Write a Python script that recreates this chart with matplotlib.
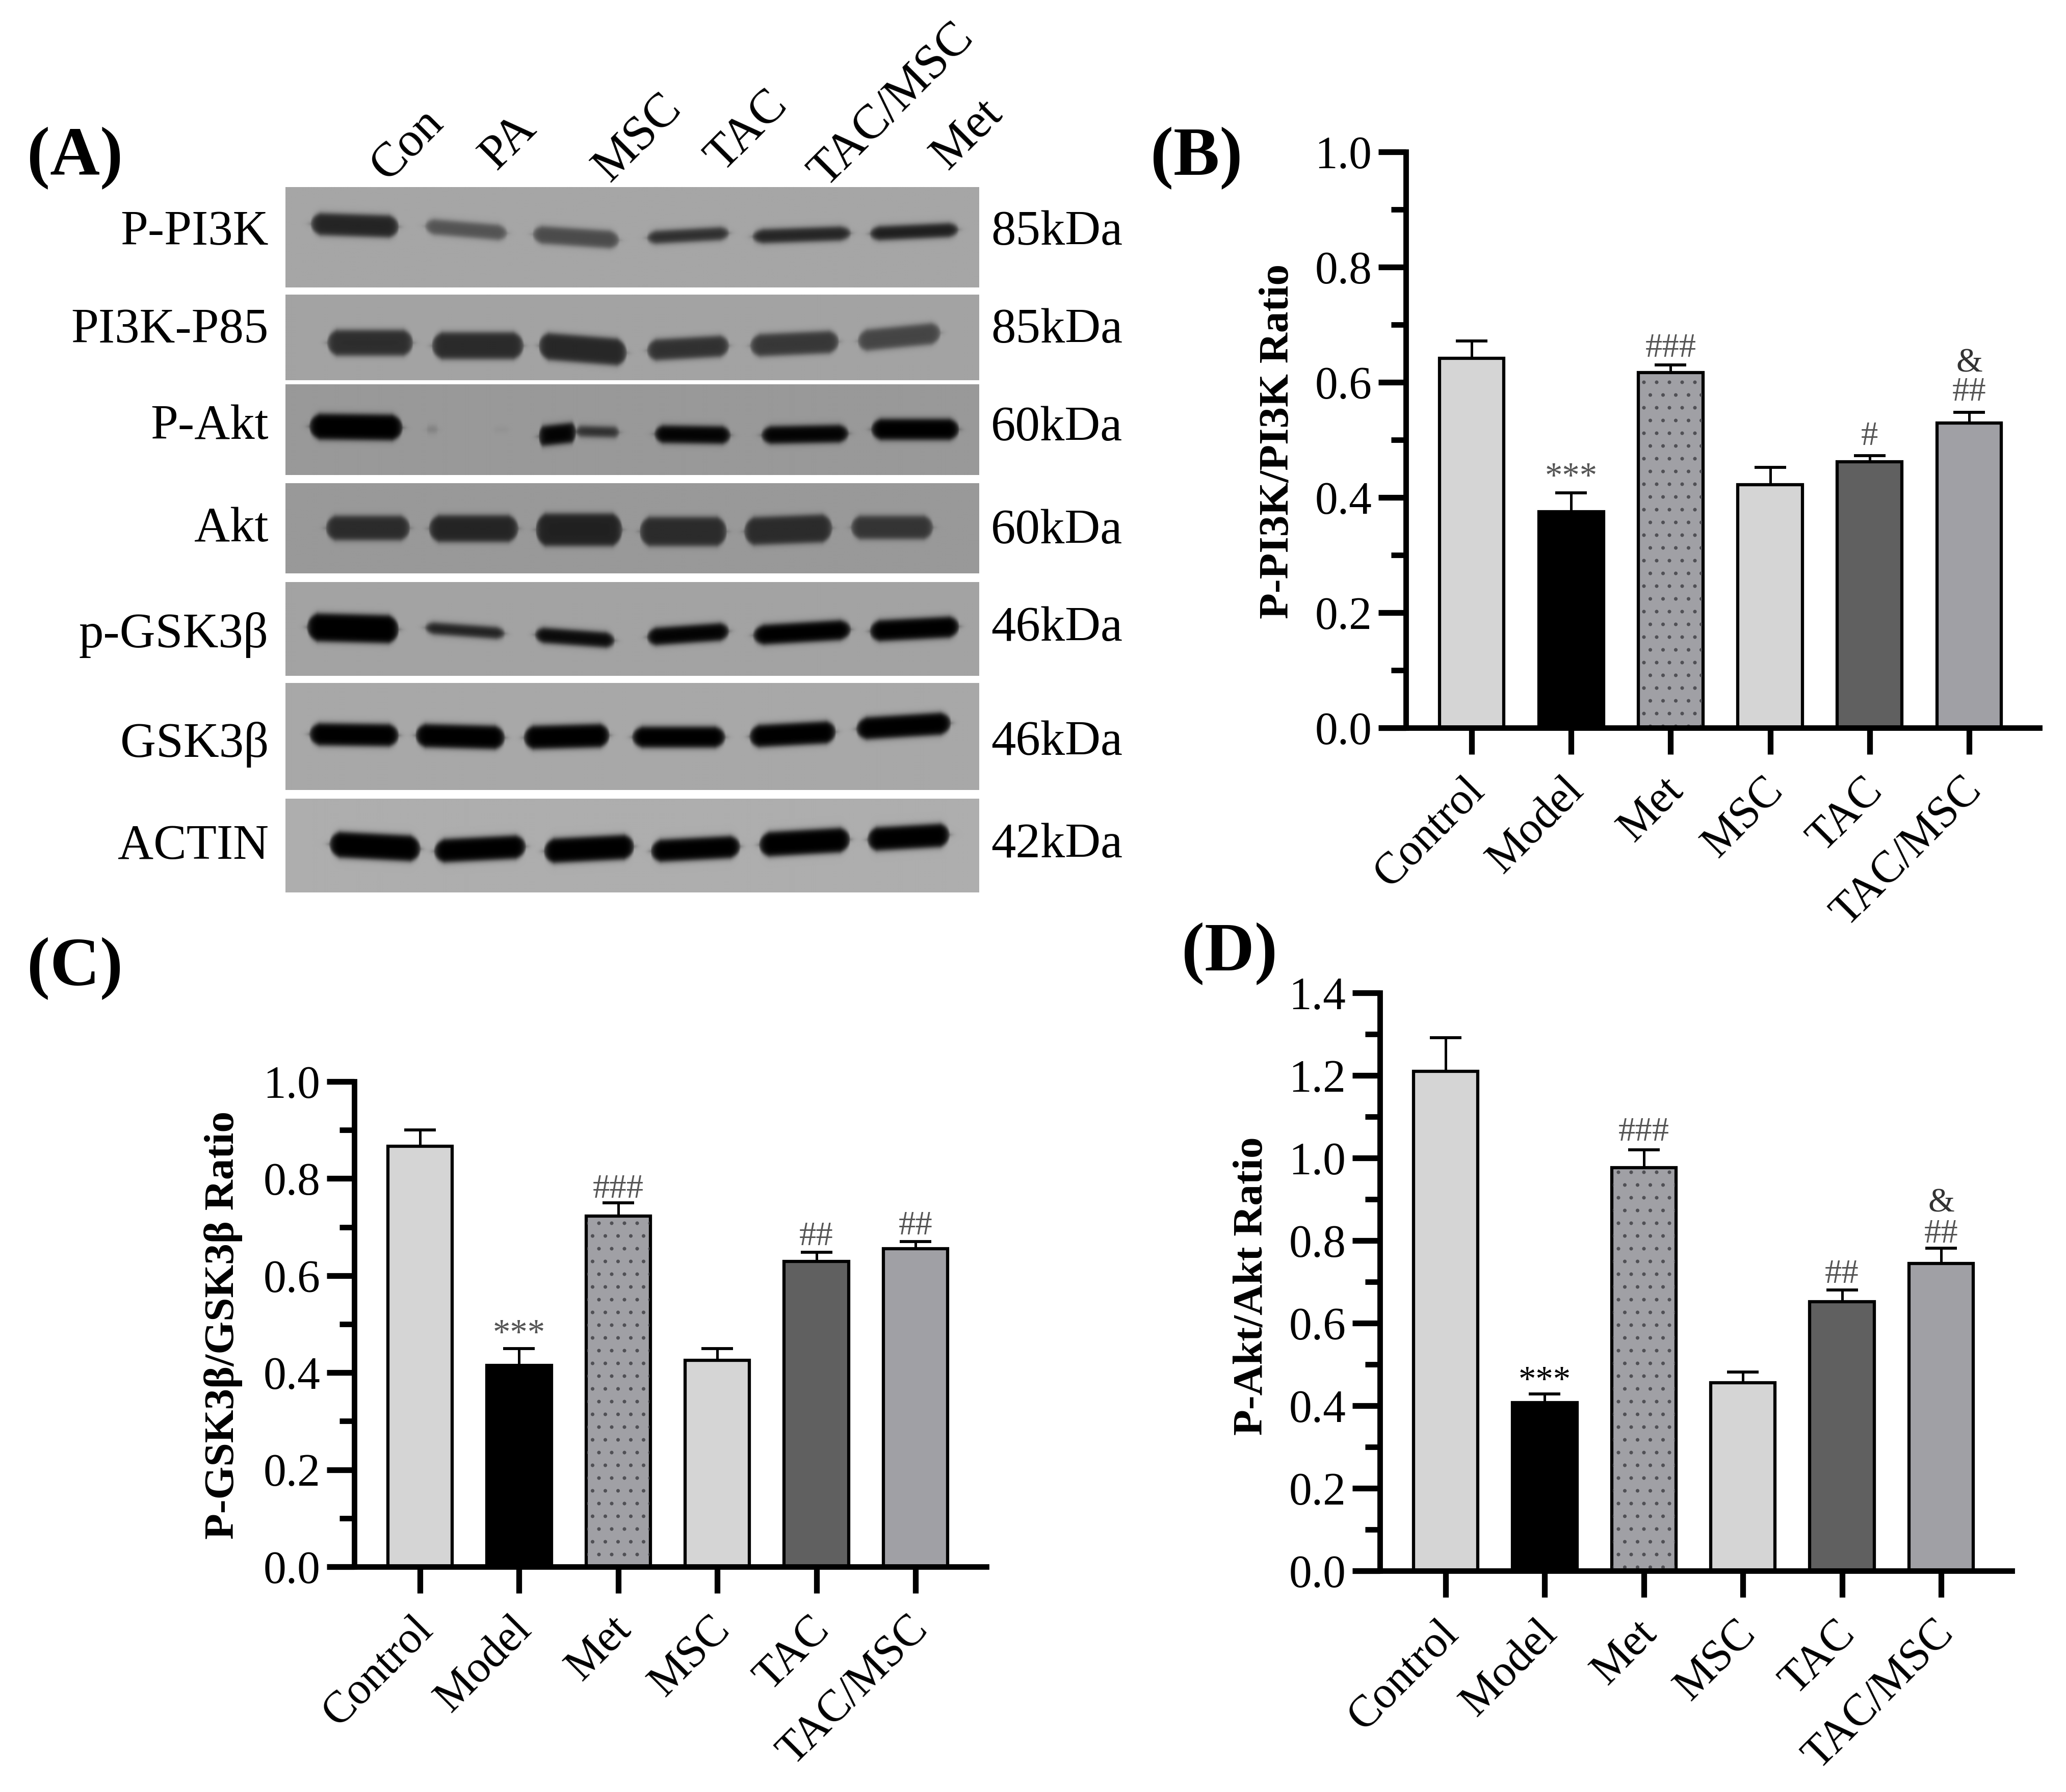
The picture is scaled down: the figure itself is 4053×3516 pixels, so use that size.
import numpy as np
import matplotlib
matplotlib.use('Agg')
import matplotlib.pyplot as plt
from matplotlib.transforms import ScaledTranslation

plt.rcParams['font.family'] = ['Liberation Serif', 'DejaVu Serif']
plt.rcParams['hatch.linewidth'] = 1.0

W, H = 4053, 3516
DPI = 150

groups = ['Control', 'Model', 'Met', 'MSC', 'TAC', 'TAC/MSC']
lanes = ['Con', 'PA', 'MSC', 'TAC', 'TAC/MSC', 'Met']
blot_labels = ['P-PI3K', 'PI3K-P85', 'P-Akt', 'Akt', 'p-GSK3\u03b2', 'GSK3\u03b2', 'ACTIN']
blot_sizes = ['85kDa', '85kDa', '60kDa', '60kDa', '46kDa', '46kDa', '42kDa']

# bar heights and error bars
b_means = [0.642, 0.375, 0.617, 0.422, 0.462, 0.529]
b_errs = [0.030, 0.033, 0.013, 0.030, 0.011, 0.019]
c_means = [0.867, 0.415, 0.723, 0.425, 0.629, 0.655]
c_errs = [0.033, 0.035, 0.027, 0.025, 0.019, 0.015]
d_means = [1.210, 0.408, 0.977, 0.455, 0.652, 0.745]
d_errs = [0.081, 0.020, 0.043, 0.027, 0.028, 0.037]

# significance marks: bar index, height in axis units, text
b_marks = [(1, 0.433, '***'), (2, 0.659, '###'), (4, 0.506, '#'), (5, 0.583, '##'), (5, 0.633, '&')]
c_marks = [(1, 0.478, '***'), (2, 0.778, '###'), (4, 0.680, '##'), (5, 0.702, '##')]
d_marks = [(1, 0.458, '***'), (2, 1.062, '###'), (4, 0.718, '##'), (5, 0.816, '##'), (5, 0.890, '&')]

bar_colors = ['#d5d5d5', '#000000', '#a0a0a5', '#d5d5d5', '#606060', '#a0a0a5']

# blot strips, top and bottom in image pixels, with background gray
strip_tops = [367, 578, 754, 948, 1142, 1340, 1567]
strip_bottoms = [564, 746, 932, 1125, 1326, 1550, 1751]
strip_grays = [0.65, 0.64, 0.60, 0.60, 0.64, 0.66, 0.68]

# bands per strip: x start, x end, y at start, y at end, thickness, darkness
# measured on the 2300x1800 crop, which came back squeezed to 1568x1568
SX, SY = 2300 / 1568, 1800 / 1568
bands = [
    [(415, 533, 382, 387, 36, 0.78), (568, 678, 386, 398, 24, 0.50), (712, 828, 400, 410, 28, 0.55),
     (865, 975, 406, 398, 20, 0.72), (1006, 1138, 404, 398, 22, 0.78), (1163, 1282, 399, 392, 22, 0.82)],
    [(437, 552, 585, 585, 42, 0.72), (577, 700, 590, 590, 44, 0.74), (720, 838, 590, 602, 44, 0.76),
     (865, 975, 598, 590, 34, 0.70), (1003, 1122, 590, 583, 36, 0.66), (1147, 1258, 582, 568, 34, 0.58)],
    [(413, 538, 728, 730, 42, 1.00), (570, 585, 733, 733, 10, 0.18), (660, 680, 733, 733, 6, 0.05),
     (720, 770, 745, 738, 32, 0.98), (770, 828, 736, 738, 16, 0.70), (875, 977, 741, 743, 28, 0.98),
     (1018, 1135, 743, 740, 28, 0.98), (1165, 1283, 733, 733, 34, 1.00)],
    [(435, 548, 902, 902, 40, 0.72), (573, 693, 903, 903, 44, 0.76), (716, 832, 905, 905, 54, 0.78),
     (855, 972, 908, 908, 48, 0.72), (995, 1113, 908, 902, 46, 0.72), (1138, 1248, 901, 901, 38, 0.66)],
    [(410, 533, 1071, 1075, 46, 1.00), (568, 675, 1072, 1082, 18, 0.80), (715, 822, 1084, 1094, 24, 0.94),
     (865, 975, 1088, 1078, 28, 0.98), (1007, 1138, 1085, 1075, 32, 1.00), (1163, 1283, 1078, 1070, 34, 1.00)],
    [(413, 533, 1254, 1256, 36, 1.00), (555, 675, 1256, 1260, 38, 1.00), (700, 815, 1260, 1256, 38, 1.00),
     (845, 970, 1259, 1259, 34, 1.00), (1002, 1118, 1258, 1250, 36, 1.00), (1145, 1272, 1245, 1235, 36, 1.00)],
    [(440, 562, 1442, 1450, 42, 1.00), (580, 703, 1454, 1446, 38, 1.00), (727, 848, 1454, 1446, 40, 1.00),
     (870, 990, 1454, 1446, 36, 1.00), (1015, 1137, 1443, 1434, 40, 1.00), (1160, 1270, 1434, 1426, 38, 1.00)],
]


def soft_step(x, width):
    return 1.0 / (1.0 + np.exp(-x / width))


def make_strip(top, bottom, gray, row_bands, left=560, right=1921):
    ys, xs = np.mgrid[top:bottom:2, left:right:2]
    keep = np.ones(xs.shape)
    for x0, x1, y0, y1, thick, dark in row_bands:
        x0, x1 = x0 * SX, x1 * SX
        y0, y1 = y0 * SY, y1 * SY
        thick = thick * SY
        yc = y0 + (y1 - y0) * (xs - x0) / (x1 - x0)
        u = (xs - (x0 + x1) / 2) / ((x1 - x0) / 2)
        half = thick / 2 * np.clip(1.25 * np.sqrt(np.clip(1 - u ** 4, 0, 1)), 0, 1) + 1
        across = soft_step(half - np.abs(ys - yc), 3.0)
        along = soft_step(x1 - xs, 4.0) * soft_step(xs - x0, 4.0)
        keep = keep * (1 - dark * across * along)
    return gray * keep


def draw_panel(fig, box, means, errs, marks, ymax, star_color):
    spine, top, right, bottom, first, step = box
    ax = fig.add_axes([spine / W, 1 - bottom / H, (right - spine) / W, (bottom - top) / H])
    ax.patch.set_alpha(0)
    x = np.arange(len(means))
    ax.bar(x, means, width=0.65, color=bar_colors, edgecolor='black', linewidth=3.0, zorder=2)
    # dotted fill for the metformin bar
    ax.bar(x[2], means[2], width=0.63, color='none', edgecolor='#505055', hatch='.', linewidth=0, zorder=2.5)
    ax.errorbar(x, means, yerr=[np.zeros(len(errs)), errs], fmt='none', ecolor='black',
                elinewidth=2.4, capsize=15, capthick=2.8, zorder=1.5)
    ax.set_xlim((spine - first) / step, (right - first) / step)
    ax.set_ylim(0, ymax)
    ax.set_yticks(np.arange(0, ymax + 0.01, 0.2))
    ax.set_yticks(np.arange(0.1, ymax, 0.2), minor=True)
    ax.set_yticklabels(['%.1f' % v for v in np.arange(0, ymax + 0.01, 0.2)])
    ax.tick_params(axis='y', which='major', length=26, width=5.4, labelsize=43, pad=6)
    ax.tick_params(axis='y', which='minor', length=14, width=5.2)
    ax.set_xticks(x)
    ax.set_xticklabels(groups, rotation=45, ha='right', va='center', rotation_mode='anchor')
    ax.tick_params(axis='x', length=25, width=5.4, labelsize=42, pad=28)
    nudge = ScaledTranslation(12 / DPI, 0, fig.dpi_scale_trans)
    for lab in ax.get_xticklabels():
        lab.set_transform(lab.get_transform() + nudge)
    for side in ['top', 'right']:
        ax.spines[side].set_visible(False)
    for side in ['left', 'bottom']:
        ax.spines[side].set_linewidth(5.2)
    for i, y, s in marks:
        color = star_color if s == '***' else '#555555'
        if s == '&':
            color = '#333333'
        ax.text(i, y, s, ha='center', va='center', fontsize=33 if s == '***' else 32, color=color, zorder=3)
    return ax


fig = plt.figure(figsize=(W / DPI, H / DPI), dpi=DPI, facecolor='white')

# full-figure layer in image pixels for the blot panel and the loose labels
page = fig.add_axes([0, 0, 1, 1])
page.axis('off')
for top, bottom, gray, row_bands in zip(strip_tops, strip_bottoms, strip_grays, bands):
    page.imshow(make_strip(top, bottom, gray, row_bands), cmap='gray', vmin=0, vmax=1, aspect='auto',
                extent=(560, 1921, bottom, top), interpolation='bilinear')
page.set_xlim(0, W)
page.set_ylim(H, 0)

label_ys = np.array([398, 565, 730, 905, 1085, 1273, 1448]) * SY
size_ys = np.array([398, 565, 732, 908, 1075, 1270, 1445]) * SY
for lab, y in zip(blot_labels, label_ys):
    page.text(527, y, lab, ha='right', va='center', fontsize=46.5)
for lab, y in zip(blot_sizes, size_ys):
    page.text(1944, y, lab, ha='left', va='center', fontsize=46.5)

lane_x = [799, 998, 1252, 1466, 1750, 1898]
lane_y = [284, 279, 271, 258, 207, 264]
for lab, x, y in zip(lanes, lane_x, lane_y):
    page.text(x, y, lab, rotation=45, ha='center', va='center', fontsize=46)

panel_x = [147, 2347, 147, 2412]
panel_y = [310, 310, 1900, 1871]
for lab, x, y in zip(['(A)', '(B)', '(C)', '(D)'], panel_x, panel_y):
    page.text(x, y, lab, ha='center', va='center', fontsize=65, fontweight='bold')

# spine x, top, right, bottom y, first bar x, bar spacing, all in image pixels
draw_panel(fig, (2758, 298, 4001, 1428, 2887, 195.2), b_means, b_errs, b_marks, 1.0, '#555555')
draw_panel(fig, (695, 2122, 1935, 3074, 824, 194.4), c_means, c_errs, c_marks, 1.0, '#555555')
draw_panel(fig, (2707, 1948, 3947, 3082, 2836, 194.4), d_means, d_errs, d_marks, 1.4, '#000000')

ylabels = ['P-PI3K/PI3K Ratio', 'P-GSK3\u03b2/GSK3\u03b2 Ratio', 'P-Akt/Akt Ratio']
ylabel_x = [2507, 438, 2456]
ylabel_y = [866, 2600, 2523]
for lab, x, y in zip(ylabels, ylabel_x, ylabel_y):
    page.text(x, y, lab, rotation=90, ha='center', va='center', fontsize=40, fontweight='bold')

fig.savefig('out.png', dpi=DPI)
